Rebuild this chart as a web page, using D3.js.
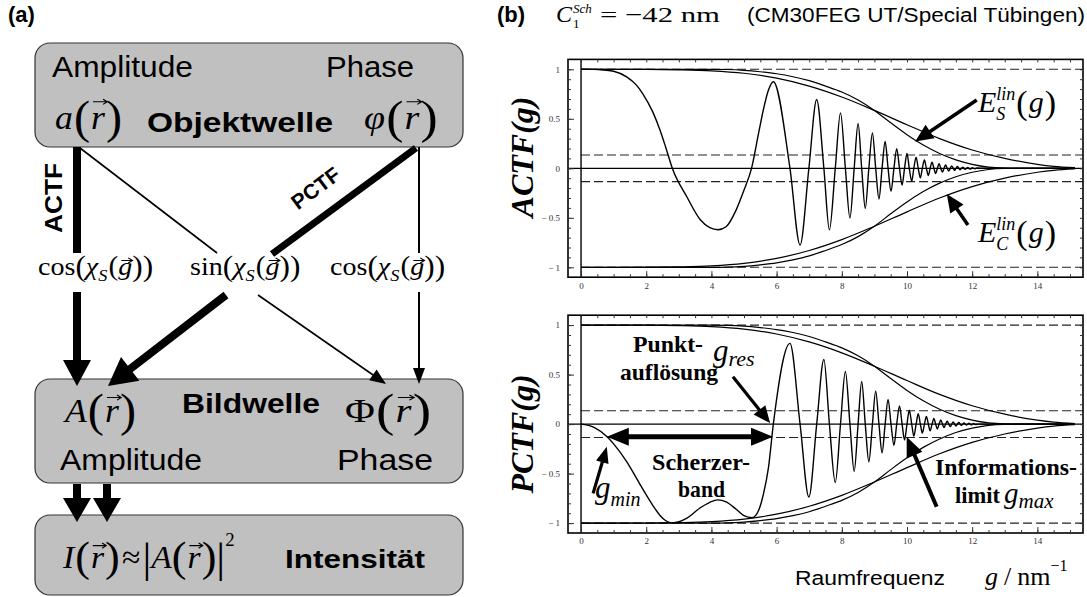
<!DOCTYPE html>
<html><head><meta charset="utf-8">
<script src="https://cdn.jsdelivr.net/npm/d3@7"></script>
<style>body{margin:0;background:#fff}svg{display:block}</style>
</head><body>
<svg id="fig" width="1087" height="597"></svg>
<script>
// ---- contrast transfer functions (g in nm^-1) ----
const actfPoints = [
  [0,1],[0.4,0.999],[0.7,0.992],[1.0,0.98],[1.4,0.924],[1.7,0.84],[1.9,0.75],[2.2,0.57],[2.43,0.38],[2.6,0.21],[2.8,0],
  [3.25,-0.29],[3.66,-0.52],[3.95,-0.6],[4.2,-0.62],[4.45,-0.59],[4.76,-0.42],[5.0,-0.22],[5.23,0],
  [5.45,0.36],[5.6,0.6],[5.75,0.79],[5.9,0.875],
  [6.41,0],[6.72,-0.775],[6.99,0],[7.23,0.695],[7.45,0],[7.62,-0.622],[7.8,0],[7.96,0.56],[8.11,0],
  [8.25,-0.503],[8.38,0],[8.5,0.452],[8.61,0],[8.72,-0.405],[8.83,0],[8.94,0.356],[9.04,0],[9.14,-0.31],
  [9.235,0],[9.33,0.27],[9.42,0],[9.51,-0.233],[9.6,0],[9.685,0.198],[9.77,0],[9.85,-0.17],[9.925,0],
  [10.0,0.15],[10.07,0],[10.145,-0.13],[10.21,0],[10.28,0.113],[10.345,0],[10.41,-0.097],[10.47,0],
  [10.535,0.084],[10.595,0],[10.655,-0.072],[10.71,0],[10.77,0.062],[10.825,0],[10.88,-0.053],[10.933,0],
  [10.986,0.046],[11.037,0],[11.088,-0.039],[11.137,0],[11.186,0.033],[11.234,0],[11.281,-0.028],[11.327,0],
  [11.373,0.024],[11.418,0],[11.462,-0.021],[11.505,0],[11.548,0.018],[11.59,0],[11.631,-0.015],[11.671,0],
  [11.711,0.012],[11.75,0],[11.789,-0.01],[11.827,0],[11.865,0.0085],[11.902,0],[11.939,-0.0075],[11.975,0],
  [12.01,0.0065],[12.045,0],[12.08,-0.0055],[12.115,0],[12.15,0.0045],[12.3,0],[15.15,0]
];
const pctfPoints = [
  [0,0],[0.4,-0.032],[0.8,-0.128],[1.0,-0.2],[1.4,-0.38],[1.7,-0.546],[1.9,-0.66],[2.2,-0.82],[2.43,-0.925],[2.6,-0.976],[2.8,-0.998],
  [3.25,-0.95],[3.66,-0.845],[3.95,-0.79],[4.2,-0.765],[4.45,-0.785],[4.76,-0.86],[5.0,-0.925],[5.25,-0.945],
  [5.45,-0.87],[5.6,-0.7],[5.75,-0.44],[5.9,0],
  [6.41,0.815],[6.72,0],[6.99,-0.737],[7.23,0],[7.45,0.653],[7.62,0],[7.8,-0.59],[7.96,0],[8.11,0.532],
  [8.25,0],[8.38,-0.477],[8.5,0],[8.61,0.43],[8.72,0],[8.83,-0.38],[8.94,0],[9.04,0.333],[9.14,0],
  [9.235,-0.29],[9.33,0],[9.42,0.25],[9.51,0],[9.6,-0.215],[9.685,0],[9.77,0.183],[9.85,0],[9.925,-0.16],
  [10.0,0],[10.07,0.14],[10.145,0],[10.21,-0.121],[10.28,0],[10.345,0.104],[10.41,0],[10.47,-0.091],
  [10.535,0],[10.595,0.078],[10.655,0],[10.71,-0.067],[10.77,0],[10.825,0.057],[10.88,0],[10.933,-0.049],
  [10.986,0],[11.037,0.042],[11.088,0],[11.137,-0.036],[11.186,0],[11.234,0.03],[11.281,0],[11.327,-0.026],
  [11.373,0],[11.418,0.022],[11.462,0],[11.505,-0.0195],[11.548,0],[11.59,0.0165],[11.631,0],[11.671,-0.0135],
  [11.711,0],[11.75,0.011],[11.789,0],[11.827,-0.009],[11.865,0],[11.902,0.008],[11.939,0],[11.975,-0.007],
  [12.01,0],[12.045,0.006],[12.08,0],[12.115,-0.005],[12.15,0],[12.3,0],[15.15,0]
];
// damping envelopes: spatial (E_S) and temporal (E_C) coherence
const envSpatial = [
  [0,1],[2,1],[4,1],[4.5,0.998],[5,0.99],[5.5,0.975],[6,0.955],[6.5,0.925],[7,0.885],[7.5,0.83],[8,0.77],
  [8.5,0.69],[9,0.585],[9.5,0.46],[10,0.34],[10.5,0.235],[11,0.15],[11.5,0.085],[12,0.04],[12.5,0.012],
  [13,0.002],[13.5,0],[15.15,0]
];
const envTemporal = [
  [0,1],[1,1],[2,0.999],[3,0.995],[4,0.985],[5,0.96],[6,0.91],[7,0.83],[8,0.72],[9,0.585],[10,0.44],
  [11,0.3],[12,0.185],[13,0.1],[14,0.04],[14.5,0.02],[15.15,0.006]
];
const dashLevels = [1, 0.135, -0.135, -1];
const xTickLabels = [0, 2, 4, 6, 8, 10, 12, 14];
const yTickLabels = [-1, -0.5, 0, 0.5, 1];

const serif = "'Liberation Serif','Times New Roman',serif";
const sans = "'Liberation Sans',Arial,Helvetica,sans-serif";
const svg = d3.select("#fig");

// ---------- helpers ----------
// one <text> per formula; tspans carry italics, sizes and baseline shifts
function formula(parent, x, y, items, base, sx, vecY) {
  const g = parent.append("g").attr("transform", `translate(${x},${y}) scale(${sx || 1},1)`);
  const t = g.append("text").attr("font-family", serif).attr("font-size", base).attr("fill", "#000");
  let shift = 0, idx = 0, pending = 0;
  const vecs = [];
  const add = (str, o) => {
    const s = t.append("tspan").text(str);
    const target = o.shift || 0;
    if (target !== shift) { s.attr("dy", target - shift); shift = target; }
    const dx = (o.dx || 0) + pending; pending = 0;
    if (dx) s.attr("dx", dx);
    if (o.size) s.attr("font-size", o.size);
    if (o.it) s.attr("font-style", "italic");
    idx += str.length;
    return s;
  };
  for (const it of items) {
    if (it.sup != null || it.sub != null) {
      const ss = it.ssize || base * 0.6;
      let w1 = 0;
      if (it.sup != null) {
        const s = add(it.sup, { shift: -(it.supY != null ? it.supY : base * 0.42), size: it.supSize || ss, it: !it.upSup, dx: it.dx });
        w1 = s.node().getComputedTextLength();
      }
      if (it.sub != null) {
        const s = add(it.sub, { shift: it.subY != null ? it.subY : base * 0.25, size: ss, it: !it.upSub, dx: it.sup != null ? -w1 : it.dx });
        const w2 = s.node().getComputedTextLength();
        if (it.sup != null && w1 > w2) pending = w1 - w2;
      }
      continue;
    }
    const start = idx;
    add(it.t, { shift: it.dy || 0, size: it.size, it: it.it, dx: it.dx });
    if (it.vec) vecs.push({ i: start, size: it.size || base });
  }
  // vector accents
  vecs.forEach(v => {
    const e = t.node().getExtentOfChar(v.i);
    const cx = e.x + e.width / 2 + v.size * 0.06, cy = -v.size * (vecY || 0.7), h = v.size * 0.2;
    g.append("path").attr("fill", "none").attr("stroke", "#000").attr("stroke-width", 1.1)
      .attr("d", `M${cx - h},${cy}H${cx + h}M${cx + h - 4},${cy - 2.6}L${cx + h},${cy}L${cx + h - 4},${cy + 2.6}`);
  });
  return g;
}
function label(parent, x, y, str, size, opts) {
  opts = opts || {};
  const t = parent.append("text").attr("x", x).attr("y", y).attr("font-size", size)
    .attr("font-family", opts.family || sans).attr("fill", opts.fill || "#000").text(str);
  if (opts.bold) t.attr("font-weight", "bold");
  if (opts.italic) t.attr("font-style", "italic");
  if (opts.width) t.attr("textLength", opts.width).attr("lengthAdjust", "spacingAndGlyphs");
  if (opts.anchor) t.attr("text-anchor", opts.anchor);
  if (opts.rotate != null) t.attr("transform", `rotate(${opts.rotate},${x},${y})`);
  return t;
}
function arrow(parent, x1, y1, x2, y2, w, hl, hw, twoHeads) {
  const dx = x2 - x1, dy = y2 - y1, L = Math.hypot(dx, dy), ux = dx / L, uy = dy / L;
  const head = (tx, ty, sx, sy) => {
    const bx = tx - sx * hl, by = ty - sy * hl;
    parent.append("path").attr("fill", "#000")
      .attr("d", `M${tx},${ty}L${bx - sy * hw / 2},${by + sx * hw / 2}L${bx + sy * hw / 2},${by - sx * hw / 2}Z`);
  };
  const sx0 = twoHeads ? x1 + ux * hl * 0.9 : x1, sy0 = twoHeads ? y1 + uy * hl * 0.9 : y1;
  parent.append("line").attr("x1", sx0).attr("y1", sy0)
    .attr("x2", x2 - ux * hl * 0.9).attr("y2", y2 - uy * hl * 0.9)
    .attr("stroke", "#000").attr("stroke-width", w);
  head(x2, y2, ux, uy);
  if (twoHeads) head(x1, y1, -ux, -uy);
}
const seg = (p, x1, y1, x2, y2, w) => p.append("line").attr("x1", x1).attr("y1", y1).attr("x2", x2).attr("y2", y2)
  .attr("stroke", "#000").attr("stroke-width", w);

// ---------- (a) flow diagram ----------
const left = svg.append("g");
label(left, 8, 22, "(a)", 22, { bold: true });

const boxes = [[43, 147], [379, 483], [515, 595]];
boxes.forEach(([t, b]) => {
  left.append("rect").attr("x", 35).attr("y", t).attr("width", 428).attr("height", b - t)
    .attr("rx", 15).attr("ry", 15).attr("fill", "#c0c0c0").attr("stroke", "#333").attr("stroke-width", 1.2);
});

const wave = (head, headIt) => [{ t: head, it: headIt }, { t: "(", size: 46, dy: 4, dx: 1 }, { t: "r", it: true, vec: true, dx: 1 }, { t: ")", size: 46, dy: 4, dx: 1 }];

// Objektwelle
label(left, 52, 77, "Amplitude", 30, { width: 141 });
label(left, 326, 77, "Phase", 30, { width: 88 });
label(left, 147, 132, "Objektwelle", 27, { bold: true, width: 186 });
formula(left, 55, 129, wave("a", true), 34, 1.05, 0.8);
formula(left, 364, 129, wave("φ", true), 34, 1.12, 0.8);

// Bildwelle
formula(left, 65, 422, wave("A", true), 34, 1.05, 0.72);
label(left, 182, 413, "Bildwelle", 28, { bold: true, width: 138 });
formula(left, 345, 422, wave("Φ", false), 34, 1.2, 0.72);
label(left, 60, 470, "Amplitude", 30, { width: 142 });
label(left, 337, 470, "Phase", 30, { width: 96 });

// Intensität
formula(left, 63, 568, [
  { t: "I", it: true }, { t: "(", size: 42, dy: 3, dx: 1 }, { t: "r", it: true, vec: true, dx: 1 }, { t: ")", size: 42, dy: 3, dx: 1 },
  { t: "≈", dx: 2 }, { t: "|", size: 42, dy: 4, dx: 2 }, { t: "A", it: true }, { t: "(", size: 42, dy: 3 },
  { t: "r", it: true, vec: true, dx: 1 }, { t: ")", size: 42, dy: 3, dx: 1 }, { t: "|", size: 42, dy: 4 },
  { sup: "2", upSup: true, supY: 22, ssize: 18 }], 32, 1.05, 0.7);
label(left, 285, 568, "Intensität", 26, { bold: true, width: 140 });

// transfer factors
const chiItems = (fn) => [{ t: fn }, { t: "(", size: 29, dy: 1 }, { t: "χ", it: true }, { sub: "S", subY: 6, ssize: 17 },
  { t: "(", size: 27, dx: 1 }, { t: "g", it: true, vec: true }, { t: "))", size: 29, dy: 1 }];
formula(left, 38, 275, chiItems("cos"), 26, 1.08, 0.56);
formula(left, 190, 275, chiItems("sin"), 26, 1.08, 0.56);
formula(left, 330, 275, chiItems("cos"), 26, 1.08, 0.56);

// object wave -> transfer factors
seg(left, 77, 147, 77, 253, 8);
seg(left, 80, 148, 217, 253, 1.6);
seg(left, 416, 148, 272, 254, 7);
seg(left, 419, 147, 419, 253, 2);
label(left, 62, 233, "ACTF", 23, { bold: true, rotate: -90, width: 70 });
label(left, 320, 194, "PCTF", 21, { bold: true, rotate: -37, anchor: "middle" });

// transfer factors -> image wave
arrow(left, 77, 292, 77, 386, 8, 26, 28);
arrow(left, 226, 295, 108, 386, 8, 28, 30);
arrow(left, 258, 295, 386, 384, 1.6, 16, 13);
arrow(left, 419, 292, 419, 384, 2, 16, 12);
// image wave -> intensity
arrow(left, 77, 484, 77, 522, 8, 24, 28);
arrow(left, 107, 484, 107, 522, 8, 24, 28);

// ---------- (b) CTF plots ----------
const right = svg.append("g");
label(right, 497, 22, "(b)", 22, { bold: true });
formula(right, 556, 22, [{ t: "C", it: true }, { sup: "Sch", sub: "1", upSub: true, supY: 9, subY: 6, ssize: 13, dx: 1 }], 24, 1);
label(right, 600, 22, "= −42 nm", 22, { family: serif, width: 120 });
label(right, 747, 22, "(CM30FEG UT/Special Tübingen)", 20, { width: 338 });

const x = d3.scaleLinear().domain([-0.4, 15.4]).range([568, 1083]);
const line = (ys) => d3.line().x(d => x(d[0])).y(d => ys(d[1])).curve(d3.curveMonotoneX);

function panel(top, bottom, points, name, nameY) {
  const y = d3.scaleLinear().domain([-1.1, 1.1]).range([bottom, top]);
  const g = right.append("g");
  const L = x.range()[0], R = x.range()[1];

  dashLevels.forEach(v => {
    g.append("line").attr("x1", x(0)).attr("x2", R).attr("y1", y(v)).attr("y2", y(v))
      .attr("stroke", "#222").attr("stroke-width", 1.1).attr("stroke-dasharray", "9,4");
  });
  g.append("line").attr("x1", L).attr("x2", R).attr("y1", y(0)).attr("y2", y(0)).attr("stroke", "#000").attr("stroke-width", 1.2);
  g.append("line").attr("x1", x(0)).attr("x2", x(0)).attr("y1", top).attr("y2", bottom).attr("stroke", "#000").attr("stroke-width", 1.4);

  [envSpatial, envTemporal].forEach(env => {
    [1, -1].forEach(s => {
      g.append("path").datum(env.map(d => [d[0], s * d[1]])).attr("d", line(y))
        .attr("fill", "none").attr("stroke", "#000").attr("stroke-width", 1.2);
    });
  });
  g.append("path").datum(points).attr("d", line(y)).attr("fill", "none").attr("stroke", "#000").attr("stroke-width", 1.4);

  g.append("rect").attr("x", L).attr("y", top).attr("width", R - L).attr("height", bottom - top)
    .attr("fill", "none").attr("stroke", "#000").attr("stroke-width", 1.6);

  const yMinor = d3.range(-10, 11).map(i => i / 10);
  const xMinor = d3.range(0, 31).map(i => i / 2);
  const tickStyle = sel => { sel.select(".domain").remove(); sel.selectAll("line").attr("stroke", "#333"); };
  g.append("g").attr("transform", `translate(${L},0)`).call(d3.axisLeft(y).tickValues(yMinor).tickSize(-3).tickFormat("")).call(tickStyle);
  g.append("g").attr("transform", `translate(${R},0)`).call(d3.axisRight(y).tickValues(yMinor).tickSize(-3).tickFormat("")).call(tickStyle);
  g.append("g").attr("transform", `translate(0,${top})`).call(d3.axisTop(x).tickValues(xMinor).tickSize(-3).tickFormat("")).call(tickStyle);
  g.append("g").attr("transform", `translate(0,${bottom})`).call(d3.axisBottom(x).tickValues(xMinor).tickSize(-3).tickFormat("")).call(tickStyle);

  const yl = g.append("g").attr("transform", `translate(${L},0)`)
    .call(d3.axisLeft(y).tickValues(yTickLabels).tickSize(-6).tickPadding(8)
      .tickFormat(v => v === 0 ? "0" : (v < 0 ? "− " : "") + Math.abs(v)));
  yl.call(tickStyle);
  yl.selectAll("text").attr("font-family", serif).attr("font-size", 9).attr("fill", "#333");
  const xl = g.append("g").attr("transform", `translate(0,${bottom})`)
    .call(d3.axisBottom(x).tickValues(xTickLabels).tickSize(-6).tickPadding(5));
  xl.call(tickStyle);
  xl.selectAll("text").attr("font-family", serif).attr("font-size", 9).attr("fill", "#333");

  g.append("text").attr("transform", `translate(533,${nameY}) rotate(-90)`)
    .attr("text-anchor", "middle").attr("font-family", serif).attr("font-size", 32)
    .attr("font-weight", "bold").attr("font-style", "italic").text(name);
  return y;
}

const yA = panel(59.4, 277.2, actfPoints, "ACTF(g)", 157);
const yP = panel(315.2, 533, pctfPoints, "PCTF(g)", 434);

// envelope annotations
arrow(right, x(12.14), yA(0.69), x(10.25), yA(0.27), 3.5, 18, 16);
arrow(right, x(11.87), yA(-0.573), x(11.22), yA(-0.26), 3.5, 18, 16);
const envLabel = (yb, sub) => formula(right, 978, yb, [{ t: "E", it: true }, { sup: "lin", sub: sub, supY: 12, subY: 8, ssize: 18 },
  { t: "(", size: 34, dy: 2, dx: 1 }, { t: "g", it: true, dx: 1 }, { t: ")", size: 34, dy: 2, dx: 1 }], 30, 1);
envLabel(112, "S");
envLabel(242, "C");

// PCTF annotations
label(right, 633, 352, "Punkt-", 23, { family: serif, bold: true, width: 70 });
label(right, 620, 380, "auflösung", 23, { family: serif, bold: true, width: 98 });
formula(right, 713, 361, [{ t: "g", it: true }, { sub: "res", subY: 5, ssize: 22 }], 31, 1);
arrow(right, x(4.66), yP(0.478), x(5.8), yP(0.01), 3.2, 17, 15);
arrow(right, x(0.79), yP(-0.128), x(5.89), yP(-0.128), 5, 22, 18, true);
label(right, 652, 470, "Scherzer-", 23, { family: serif, bold: true, width: 98 });
label(right, 678, 497, "band", 23, { family: serif, bold: true, width: 47 });
formula(right, 595, 498, [{ t: "g", it: true }, { sub: "min", subY: 8, ssize: 20 }], 31, 1);
arrow(right, x(0.37), yP(-0.70), x(0.79), yP(-0.23), 3.2, 16, 13);
label(right, 935, 475, "Informations-", 23, { family: serif, bold: true, width: 142 });
label(right, 955, 503, "limit", 23, { family: serif, bold: true, width: 45 });
formula(right, 1004, 503, [{ t: "g", it: true }, { sub: "max", subY: 5, ssize: 21 }], 29, 1);
arrow(right, x(10.91), yP(-0.835), x(9.99), yP(-0.128), 4, 20, 17);

// axis title
label(right, 795, 585, "Raumfrequenz", 20, { width: 150 });
formula(right, 985, 585, [{ t: "g", it: true }, { t: "/", dx: 6 }, { t: "nm", dx: 6 }, { sup: "−1", upSup: true, supY: 14, ssize: 16 }], 26, 1);
</script>
</body></html>
